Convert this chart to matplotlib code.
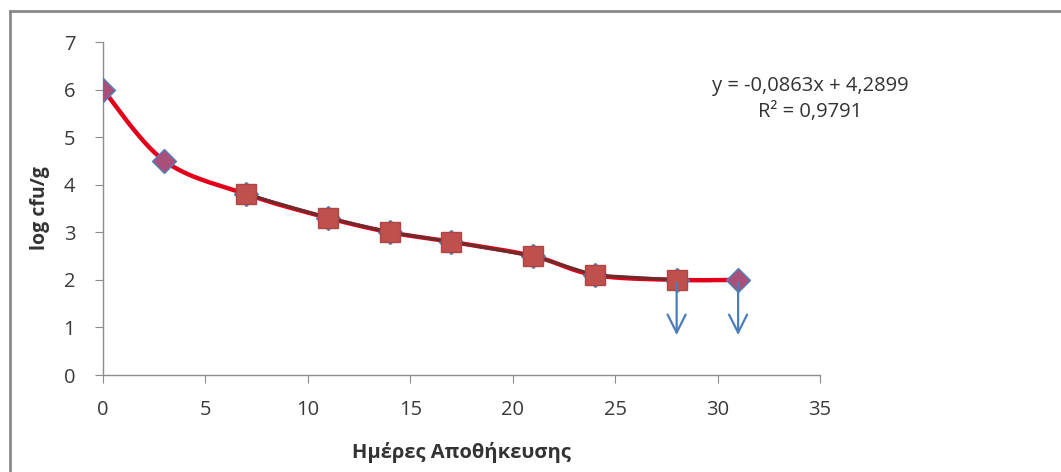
import matplotlib.pyplot as plt
import numpy as np

plt.rcParams['font.family'] = ['Open Sans', 'DejaVu Sans']

# storage days and counts
days = [0, 3, 7, 11, 14, 17, 21, 24, 28, 31]
log_cfu = [6.0, 4.5, 3.8, 3.3, 3.0, 2.8, 2.5, 2.1, 2.0, 2.0]

# second series (square markers)
days_sq = [7, 11, 14, 17, 21, 24, 28]
log_sq = [3.8, 3.3, 3.0, 2.8, 2.5, 2.1, 2.0]

# points below detection limit
limit_days = [28, 31]
limit_vals = [2.0, 2.0]
arrow_end = 0.78

eq_text = "y = -0,0863x + 4,2899\nR² = 0,9791"


def smooth(xs, ys, n=30):
    # Catmull-Rom curve through the points, like Excel's smoothed line
    xs = np.asarray(xs, float)
    ys = np.asarray(ys, float)
    px = np.concatenate([[xs[0]], xs, [xs[-1]]])
    py = np.concatenate([[ys[0]], ys, [ys[-1]]])
    outx, outy = [], []
    t = np.linspace(0, 1, n)
    for i in range(1, len(px) - 2):
        p0, p1, p2, p3 = [np.array([px[j], py[j]]) for j in range(i - 1, i + 3)]
        b1 = p1 + (p2 - p0) / 6
        b2 = p2 - (p3 - p1) / 6
        pts = ((1 - t) ** 3)[:, None] * p1 + (3 * (1 - t) ** 2 * t)[:, None] * b1 \
            + (3 * (1 - t) * t ** 2)[:, None] * b2 + (t ** 3)[:, None] * p2
        outx.extend(pts[:, 0])
        outy.extend(pts[:, 1])
    return np.array(outx), np.array(outy)


fig = plt.figure(figsize=(10.61, 4.72), dpi=100)
ax = fig.add_axes([0.0971, 0.2055, 0.6758, 0.7055])

sx, sy = smooth(days, log_cfu)
ax.plot(sx, sy, color="#E3001B", lw=3.2, zorder=2, solid_capstyle="round")
ax.plot(days, log_cfu, ls="none", marker="D", markersize=12,
        markerfacecolor="#A8507A", markeredgecolor="#4F81BD", markeredgewidth=1, zorder=3)

ax.plot(days_sq, log_sq, color="#6B2C2C", lw=2.2, zorder=4)
ax.plot(days_sq, log_sq, ls="none", marker="s", markersize=15,
        markerfacecolor="#C0504D", markeredgecolor="#B04545", markeredgewidth=1, zorder=5)

for x, y in zip(limit_days, limit_vals):
    ax.annotate("", xy=(x, arrow_end), xytext=(x, y),
                arrowprops=dict(arrowstyle="->,head_width=0.65,head_length=1.3",
                                color="#4A7EBB", lw=1.6), zorder=6)

ax.set_xlim(0, 35)
ax.set_ylim(0, 7)
ax.set_xticks(range(0, 36, 5))
ax.set_yticks(range(0, 8))
for s in ["top", "right"]:
    ax.spines[s].set_visible(False)
for s in ["left", "bottom"]:
    ax.spines[s].set_color("#8C8C8C")
    ax.spines[s].set_linewidth(1)
ax.tick_params(axis="both", colors="#8C8C8C", labelcolor="#3A3A3A", labelsize=14.5,
               direction="out", length=6)
ax.tick_params(axis="y", pad=14)
ax.tick_params(axis="x", pad=12)

ax.set_xlabel("Ημέρες Αποθήκευσης", fontsize=14.5, fontweight="bold", color="#333333", labelpad=16)
ax.set_ylabel("log cfu/g", fontsize=14, fontweight="bold", color="#333333", labelpad=10)

fig.text(810 / 1061, 1 - 99 / 472, eq_text, ha="center", va="center", fontsize=14.5,
         color="#333333", linespacing=1.35)

# outer chart frame (only top and left edges visible)
fig.add_artist(plt.Line2D([10 / 1061, 1], [1 - 11 / 472] * 2, color="#8A8A8A", lw=2))
fig.add_artist(plt.Line2D([10 / 1061] * 2, [0, 1 - 11 / 472], color="#8A8A8A", lw=2))

fig.savefig("out.png", dpi=100)
